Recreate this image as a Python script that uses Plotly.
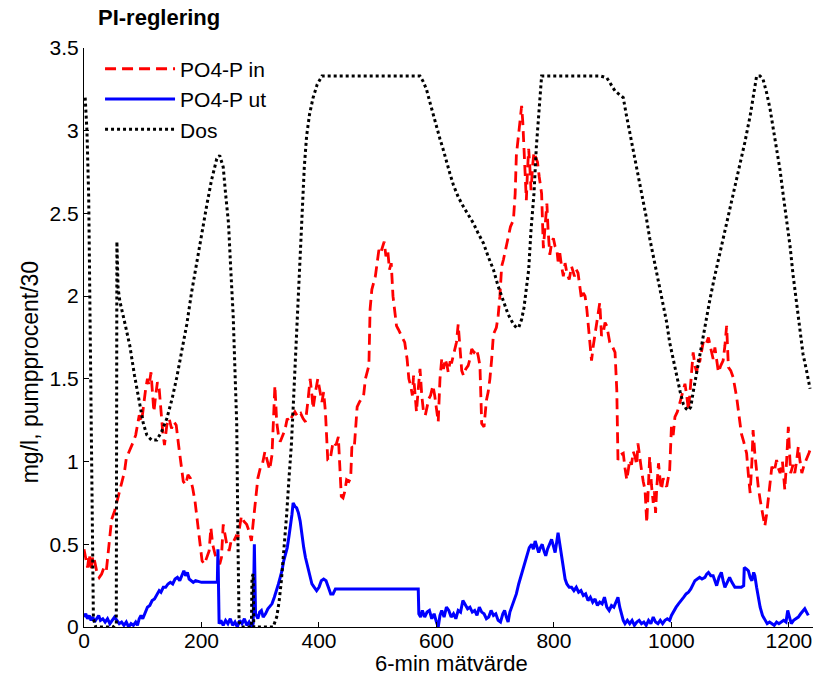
import plotly.graph_objects as go

# ---- PO4-P in (red dashed) ----
red_x = [0, 3, 6, 9, 12, 15, 18, 22, 26, 30,
         34, 38, 42, 47, 52, 56, 61, 65, 69, 72,
         76, 80, 84, 88, 91, 94, 98, 102, 105, 108,
         111, 114, 117, 119, 122, 125, 128, 131, 134, 137,
         141, 145, 149, 153, 157, 161, 165, 169, 173, 177,
         181, 185, 189, 192, 195, 198, 201, 205, 209, 213,
         216, 219, 223, 227, 231, 234, 237, 240, 243, 247,
         251, 255, 259, 262, 265, 268, 272, 277, 281, 285,
         288, 292, 296, 300, 304, 308, 312, 316, 320, 323,
         325, 328, 331, 334, 338, 342, 346, 350, 355, 359,
         364, 369, 373, 377, 381, 385, 388, 390, 394, 398,
         401, 405, 408, 411, 415, 419, 424, 429, 433, 436,
         438, 441, 444, 447, 451, 454, 456, 460, 463, 465,
         469, 473, 476, 479, 482, 485, 487, 490, 493, 496,
         499, 502, 505, 508, 511, 514, 517, 520, 523, 526,
         529, 532, 535, 538, 542, 546, 550, 553, 556, 559,
         561, 564, 566, 569, 572, 575, 578, 581, 584, 587,
         590, 594, 597, 600, 603, 606, 609, 612, 615,
         618, 620, 623, 626, 630, 634, 637, 640, 643, 646,
         650, 654, 657, 660, 664, 668, 671, 674, 677, 681,
         685, 688, 691, 694, 697, 702, 705, 708, 711, 714,
         717, 720, 722, 726, 731, 734, 736, 739, 742, 745,
         747, 749, 751, 753, 755, 757, 759, 761, 764, 766,
         769, 772, 775, 779, 782, 785, 788, 790, 793, 796,
         799, 802, 805, 807, 810, 813, 816, 819, 822, 826,
         830, 835, 838, 841, 844, 847, 850, 853, 856, 858,
         861, 864, 867, 870, 873, 876, 878, 881, 884, 887,
         890, 893, 895, 899, 904, 907, 909, 913, 918, 921,
         924, 927, 929, 932, 935, 938, 941, 943, 946, 949,
         952, 955, 958, 960, 963, 966, 969, 971, 973, 975,
         978, 981, 983, 986, 989, 992, 995, 997, 1000, 1003,
         1006, 1010, 1014, 1018, 1023, 1026, 1029,
         1033, 1037, 1040, 1043, 1046, 1048, 1051, 1054, 1058, 1063,
         1066, 1068, 1071, 1074, 1077, 1080, 1084, 1088, 1091, 1094,
         1097, 1101, 1105, 1108, 1111, 1115, 1119, 1123, 1128, 1131,
         1134, 1137, 1139, 1142, 1145, 1148, 1151, 1155, 1159, 1162,
         1165, 1168, 1171, 1175, 1179, 1182, 1185, 1189, 1193, 1196,
         1199, 1201, 1203, 1207, 1210, 1213, 1216, 1219, 1222, 1226,
         1230, 1234, 1238]
red_y = [0.47, 0.42, 0.36, 0.44, 0.34, 0.43, 0.40, 0.33, 0.30, 0.32,
         0.36, 0.34, 0.48, 0.65, 0.70, 0.76, 0.82, 0.88, 0.94, 1.02,
         1.05, 1.08, 1.12, 1.16, 1.22, 1.28, 1.24, 1.38, 1.44, 1.50,
         1.46, 1.54, 1.42, 1.30, 1.40, 1.48, 1.44, 1.30, 1.18, 1.10,
         1.22, 1.26, 1.20, 1.24, 1.22, 1.10, 0.98, 0.88, 0.86, 0.92,
         0.90, 0.84, 0.76, 0.66, 0.58, 0.48, 0.40, 0.38, 0.42, 0.46,
         0.60, 0.50, 0.44, 0.40, 0.38, 0.42, 0.62, 0.56, 0.50, 0.46,
         0.53, 0.52, 0.55, 0.54, 0.60, 0.67, 0.64, 0.62, 0.58, 0.52,
         0.63, 0.78, 0.90, 0.96, 0.99, 1.06, 1.00, 0.95, 1.04, 1.30,
         1.46, 1.24, 1.16, 1.12, 1.15, 1.19, 1.26, 1.24, 1.28, 1.30,
         1.27, 1.29, 1.26, 1.24, 1.36, 1.50, 1.40, 1.32, 1.42, 1.50,
         1.44, 1.36, 1.42, 1.30, 1.01, 1.01, 1.12, 1.10, 1.15, 0.90,
         0.79, 0.78, 0.82, 0.89, 0.88, 0.90, 1.09, 1.08, 1.20, 1.33,
         1.36, 1.38, 1.40, 1.50, 1.54, 1.58, 1.92, 2.04, 2.08, 2.12,
         2.20, 2.28, 2.26, 2.30, 2.33, 2.24, 2.28, 2.16, 2.20, 2.00,
         1.92, 1.82, 1.80, 1.78, 1.75, 1.72, 1.62, 1.50, 1.46, 1.40,
         1.52, 1.38, 1.30, 1.44, 1.56, 1.40, 1.30, 1.28, 1.34, 1.38,
         1.40, 1.46, 1.40, 1.30, 1.24, 1.50, 1.62, 1.56, 1.62,
         1.58, 1.54, 1.60, 1.60, 1.66, 1.72, 1.83, 1.66, 1.55, 1.52,
         1.56, 1.58, 1.62, 1.68, 1.66, 1.68, 1.64, 1.58, 1.23, 1.21,
         1.37, 1.42, 1.50, 1.62, 1.77, 1.81, 1.88, 2.00, 2.18, 2.22,
         2.27, 2.33, 2.37, 2.42, 2.46, 2.62, 2.85, 2.96, 3.04, 3.15,
         3.05, 2.91, 2.72, 2.58, 2.76, 2.89, 2.78, 2.64, 2.80, 2.87,
         2.84, 2.81, 2.72, 2.62, 2.29, 2.46, 2.56, 2.40, 2.25, 2.32,
         2.35, 2.30, 2.28, 2.21, 2.26, 2.18, 2.12, 2.20, 2.14, 2.10,
         2.18, 2.12, 2.16, 2.14, 2.06, 1.98, 2.02, 2.00, 1.92, 1.84,
         1.72, 1.61, 1.70, 1.78, 1.86, 1.94, 1.96, 1.76, 1.78, 1.84,
         1.82, 1.76, 1.72, 1.70, 1.66, 1.43, 1.01, 1.04, 1.05, 0.96,
         0.89, 0.96, 1.01, 0.98, 1.06, 1.03, 0.98, 1.11, 1.02, 0.95,
         0.88, 0.83, 0.63, 0.80, 1.03, 0.86, 0.75, 0.82, 0.69, 0.84,
         0.99, 0.88, 0.83, 0.90, 0.86, 0.85, 0.90, 0.95, 1.21, 1.16,
         1.27, 1.30, 1.35, 1.40, 1.47, 1.40, 1.31,
         1.48, 1.66, 1.58, 1.54, 1.62, 1.60, 1.66, 1.72, 1.70, 1.75,
         1.70, 1.67, 1.62, 1.69, 1.60, 1.54, 1.58, 1.61, 1.70, 1.82,
         1.57, 1.55, 1.51, 1.45, 1.39, 1.28, 1.17, 1.12, 1.05, 0.92,
         0.81, 1.00, 1.19, 1.05, 0.93, 0.84, 0.77, 0.68, 0.61, 0.68,
         0.77, 0.88, 0.97, 0.94, 1.01, 0.96, 0.93, 1.00, 0.83, 1.00,
         1.21, 1.06, 0.93, 0.98, 0.93, 1.00, 1.09, 1.00, 0.93, 0.98,
         1.01, 1.05, 1.09]

# ---- PO4-P ut (blue solid) ----
blue_x = [0, 3, 6, 9, 12, 15, 18, 21, 25, 28,
          32, 36, 40, 44, 48, 52, 56, 60, 64, 68,
          72, 76, 80, 84, 88, 91, 94, 97, 100, 104,
          108, 112, 116, 120, 124, 128, 131, 135, 139, 143,
          147, 151, 155, 159, 163, 167, 170, 173, 176, 179,
          182, 186, 190, 200, 212, 227, 228, 230, 233, 237,
          241, 245, 249, 253, 257, 261, 265, 269, 273, 277,
          281, 285, 288, 290, 292, 296, 299, 302, 305, 309,
          313, 317, 320, 324, 328, 331, 334, 337, 340, 343,
          346, 349, 352, 354, 356, 359, 362, 365, 368, 371,
          374, 377, 380, 384, 388, 392, 396, 400, 404, 408,
          412, 416, 420, 424, 428, 450, 500, 540, 569, 570,
          573, 576, 580, 584, 588, 592, 596, 600, 603, 606,
          609, 613, 617, 621, 625, 629, 633, 637, 641, 645,
          649, 653, 657, 661, 665, 669, 673, 677, 681, 685,
          689, 693, 697, 701, 705, 709, 713, 716, 719, 722,
          725, 728, 732, 736, 740, 744, 748, 751, 754, 758,
          762, 765, 768, 771, 774, 777, 780, 783, 786, 789,
          792, 796, 799, 802, 805, 807, 810, 813, 816, 819,
          822, 826, 830, 834, 838, 842, 846, 850, 854, 858,
          862, 866, 870, 874, 878, 882, 886, 890, 894, 898,
          902, 906, 909, 912, 915, 918, 921, 925, 929, 933,
          937, 941, 945, 949, 953, 957, 961, 965, 969, 973,
          977, 981, 985, 989, 993, 997, 1000, 1004, 1008, 1012,
          1017, 1021, 1025, 1029, 1033, 1037, 1040, 1044, 1048, 1052,
          1057, 1060, 1063, 1067, 1071, 1074, 1077, 1081, 1085, 1088,
          1091, 1095, 1099, 1103, 1108, 1113, 1119, 1123, 1124, 1128,
          1131, 1134, 1137, 1140, 1142, 1145, 1148, 1151, 1155, 1159,
          1163, 1167, 1171, 1175, 1179, 1183, 1187, 1191, 1195, 1198,
          1201, 1204, 1208, 1212, 1216, 1220, 1224, 1227, 1230, 1233]
blue_y = [0.06, 0.08, 0.05, 0.07, 0.04, 0.06, 0.03, 0.05, 0.07, 0.04,
          0.05, 0.03, 0.05, 0.02, 0.04, 0.06, 0.04, 0.02, 0.03, 0.01,
          0.03, 0.00, 0.02, 0.01, 0.03, 0.01, 0.05, 0.07, 0.05, 0.09,
          0.12, 0.13, 0.16, 0.17, 0.20, 0.22, 0.21, 0.24, 0.24, 0.26,
          0.27, 0.26, 0.29, 0.30, 0.28, 0.32, 0.34, 0.31, 0.33, 0.29,
          0.28, 0.27, 0.28, 0.27, 0.27, 0.27, 0.47, 0.02, 0.04, 0.01,
          0.04, 0.02, 0.05, 0.01, 0.03, 0.00, 0.04, 0.02, 0.05, 0.01,
          0.03, 0.00, 0.02, 0.50, 0.08, 0.05, 0.09, 0.10, 0.06, 0.08,
          0.11, 0.13, 0.14, 0.18, 0.22, 0.26, 0.30, 0.34, 0.40, 0.44,
          0.48, 0.55, 0.62, 0.68, 0.75, 0.73, 0.72, 0.69, 0.64, 0.55,
          0.48, 0.42, 0.38, 0.31, 0.26, 0.24, 0.22, 0.24, 0.28, 0.29,
          0.28, 0.24, 0.20, 0.20, 0.23, 0.23, 0.23, 0.23, 0.23, 0.08,
          0.06, 0.10, 0.06, 0.09, 0.10, 0.05, 0.08, 0.03, 0.00, 0.07,
          0.10, 0.06, 0.12, 0.10, 0.06, 0.08, 0.05, 0.10, 0.09, 0.16,
          0.13, 0.11, 0.12, 0.09, 0.10, 0.07, 0.12, 0.09, 0.08, 0.05,
          0.06, 0.10, 0.07, 0.08, 0.04, 0.03, 0.08, 0.10, 0.06, 0.03,
          0.09, 0.12, 0.15, 0.20, 0.26, 0.31, 0.37, 0.40, 0.43, 0.48,
          0.50, 0.47, 0.52, 0.48, 0.45, 0.48, 0.50, 0.46, 0.43, 0.47,
          0.50, 0.53, 0.49, 0.45, 0.52, 0.57, 0.50, 0.43, 0.34, 0.29,
          0.26, 0.24, 0.24, 0.22, 0.24, 0.21, 0.22, 0.19, 0.20, 0.16,
          0.18, 0.15, 0.17, 0.13, 0.15, 0.14, 0.18, 0.12, 0.10, 0.13,
          0.12, 0.15, 0.18, 0.12, 0.08, 0.04, 0.02, 0.04, 0.02, 0.04,
          0.01, 0.03, 0.04, 0.02, 0.03, 0.01, 0.04, 0.02, 0.06, 0.03,
          0.02, 0.04, 0.02, 0.04, 0.05, 0.04, 0.07, 0.10, 0.12, 0.14,
          0.16, 0.18, 0.20, 0.21, 0.23, 0.26, 0.28, 0.29, 0.30, 0.29,
          0.30, 0.32, 0.33, 0.31, 0.31, 0.28, 0.25, 0.30, 0.33, 0.28,
          0.24, 0.27, 0.30, 0.27, 0.24, 0.24, 0.24, 0.25, 0.36, 0.35,
          0.34, 0.30, 0.28, 0.33, 0.31, 0.24, 0.18, 0.12, 0.07, 0.04,
          0.02, 0.03, 0.02, 0.01, 0.03, 0.02, 0.03, 0.04, 0.03, 0.10,
          0.06, 0.02, 0.04, 0.05, 0.06, 0.08, 0.10, 0.11, 0.09, 0.07]

# ---- Dos (black dotted) ----
dos_x = [2, 5, 8, 10, 12, 14, 16, 20, 35, 50,
         55, 56, 58, 61, 70, 78, 86, 95, 101, 107,
         115, 124, 132, 141, 150, 158, 166, 175, 183, 192,
         200, 209, 217, 226, 231, 237, 241, 246, 250, 254,
         257, 260, 262, 264, 270, 280, 285, 286, 288, 289,
         300, 315, 322, 328, 332, 336, 340, 345, 349, 353,
         356, 359, 362, 365, 368, 371, 375, 379, 384, 390,
         397, 405, 480, 572, 577, 583, 589, 595, 600, 606,
         612, 617, 623, 629, 637, 646, 655, 663, 671, 680,
         688, 697, 705, 714, 722, 731, 736, 740, 745, 749,
         753, 757, 761, 766, 770, 774, 779, 861, 880, 890,
         897, 904, 911, 918, 923, 929, 935, 941, 946, 952,
         957, 963, 969, 975, 980, 986, 992, 997, 1003, 1009,
         1015, 1020, 1025, 1029, 1033, 1037, 1042, 1048, 1056, 1065,
         1073, 1082, 1090, 1099, 1108, 1116, 1125, 1134, 1140, 1145,
         1151, 1156, 1162, 1168, 1173, 1179, 1185, 1190, 1196, 1202,
         1207, 1213, 1219, 1224, 1230, 1236]
dos_y = [3.20, 3.00, 2.60, 2.00, 1.30, 0.60, 0.05, 0.00, 0.00, 0.00,
         0.02, 2.33, 2.05, 1.97, 1.83, 1.70, 1.52, 1.33, 1.23, 1.16,
         1.13, 1.13, 1.18, 1.26, 1.38, 1.51, 1.67, 1.83, 2.02, 2.21,
         2.38, 2.55, 2.70, 2.83, 2.85, 2.78, 2.62, 2.44, 2.15, 1.88,
         1.55, 1.23, 0.54, 0.03, 0.00, 0.00, 0.00, 0.30, 0.32, 0.00,
         0.00, 0.00, 0.00, 0.06, 0.15, 0.28, 0.45, 0.68, 0.90, 1.10,
         1.32, 1.55, 1.78, 1.98, 2.22, 2.50, 2.78, 2.97, 3.10, 3.20,
         3.28, 3.33, 3.33, 3.33, 3.30, 3.25, 3.17, 3.09, 3.02, 2.95,
         2.88, 2.81, 2.74, 2.67, 2.60, 2.54, 2.49, 2.44, 2.38, 2.32,
         2.24, 2.16, 2.06, 1.97, 1.89, 1.83, 1.81, 1.81, 1.86, 1.93,
         2.05, 2.16, 2.40, 2.62, 2.90, 3.12, 3.33, 3.33, 3.33, 3.32,
         3.28, 3.24, 3.22, 3.20, 3.10, 2.99, 2.88, 2.78, 2.68, 2.58,
         2.48, 2.35, 2.24, 2.14, 2.04, 1.95, 1.84, 1.72, 1.62, 1.51,
         1.42, 1.35, 1.32, 1.31, 1.33, 1.42, 1.52, 1.65, 1.81, 1.97,
         2.11, 2.25, 2.39, 2.53, 2.66, 2.78, 2.93, 3.09, 3.22, 3.33,
         3.33, 3.31, 3.23, 3.13, 3.02, 2.90, 2.76, 2.62, 2.46, 2.30,
         2.13, 1.97, 1.81, 1.65, 1.55, 1.44]

x_ticks = [0, 200, 400, 600, 800, 1000, 1200]
y_ticks = [0, 0.5, 1, 1.5, 2, 2.5, 3, 3.5]
y_tick_text = ["0", "0.5", "1", "1.5", "2", "2.5", "3", "3.5"]

FONT = "Liberation Sans, Arial, Helvetica, sans-serif"

fig = go.Figure()
fig.add_trace(go.Scatter(x=red_x, y=red_y, mode="lines", name="PO4-P in",
                         legendgroup="a",
                         line=dict(color="#ff0000", width=2.8, dash="11px,6px")))
fig.add_trace(go.Scatter(x=blue_x, y=blue_y, mode="lines", name="PO4-P ut",
                         legendgroup="b",
                         line=dict(color="#0000ff", width=3)))
fig.add_trace(go.Scatter(x=dos_x, y=dos_y, mode="lines", name="Dos",
                         legendgroup="c",
                         line=dict(color="#000000", width=3, dash="dot")))

fig.update_layout(
    width=813, height=683,
    margin=dict(l=84, r=0, t=48, b=56),
    paper_bgcolor="white", plot_bgcolor="white",
    font=dict(family=FONT, size=21, color="black"),
    showlegend=True,
    legend=dict(x=0.022, y=0.999, xanchor="left", yanchor="top",
                bgcolor="rgba(0,0,0,0)", borderwidth=0,
                font=dict(size=21), itemwidth=70,
                traceorder="grouped", tracegroupgap=0),
    xaxis=dict(range=[0, 1241], tickvals=x_ticks, ticks="inside", ticklen=5,
               tickcolor="black", showline=True, linecolor="black", linewidth=1,
               showgrid=False, zeroline=False, tickfont=dict(size=21),
               ticklabelstandoff=-5),
    yaxis=dict(range=[0, 3.5], tickvals=y_ticks, ticktext=y_tick_text,
               ticks="inside", ticklen=5, tickcolor="black", showline=True,
               linecolor="black", linewidth=1, showgrid=False, zeroline=False,
               tickfont=dict(size=21)),
    annotations=[
        dict(text="<b>PI-reglering</b>", xref="paper", yref="paper",
             x=0.016, y=1.052, xanchor="left", yanchor="middle",
             showarrow=False, font=dict(size=22)),
        dict(text="mg/l, pumpprocent/30", xref="paper", yref="paper",
             x=-0.074, y=0.44, textangle=-90, xanchor="center",
             yanchor="middle", showarrow=False, font=dict(size=23)),
        dict(text="6-min mätvärde", xref="paper", yref="paper",
             x=0.504, y=-0.063, xanchor="center", yanchor="middle",
             showarrow=False, font=dict(size=22)),
    ],
)

fig.write_html("out.html")
